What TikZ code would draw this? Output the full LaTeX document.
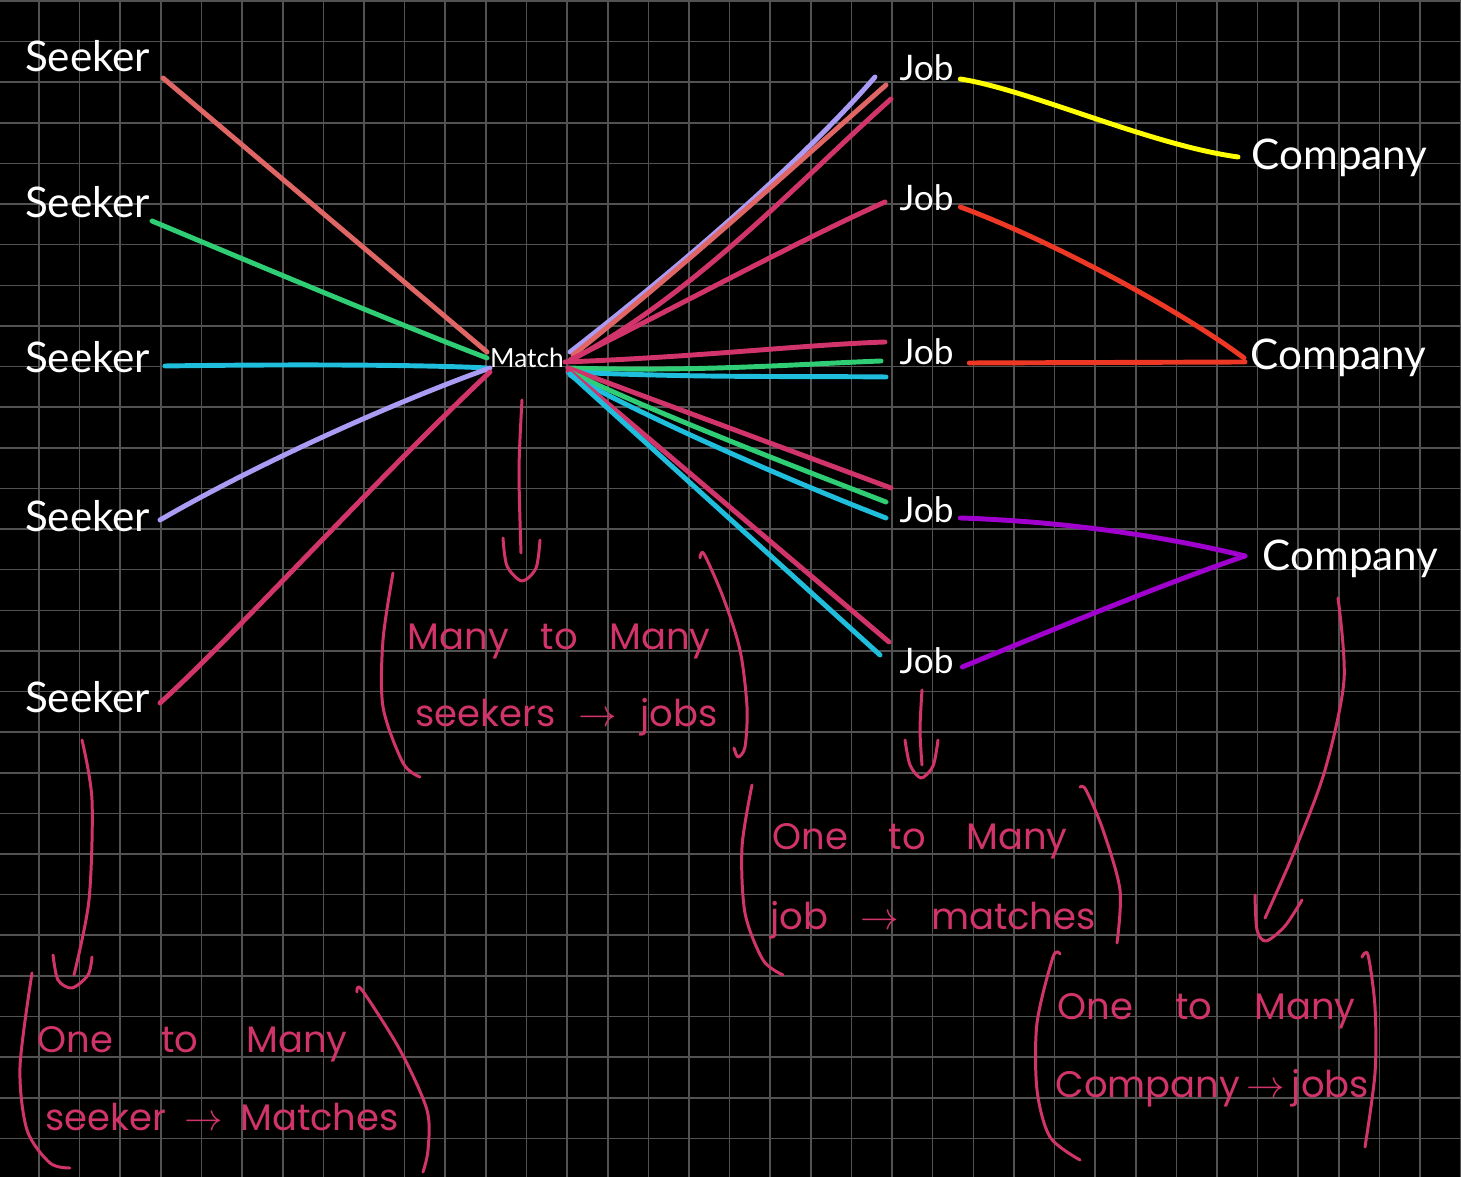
\documentclass[tikz,border=0pt]{standalone}
\usepackage{fontspec}
\usetikzlibrary{calc}
\newfontfamily\labelfont{Lato}
\newfontfamily\handfont{Poppins}
\definecolor{gridGray}{RGB}{82,82,82}
\definecolor{lnSalmon}{RGB}{224,102,102}
\definecolor{lnGreen}{RGB}{48,206,116}
\definecolor{lnCyan}{RGB}{30,190,220}
\definecolor{lnLavender}{RGB}{170,155,245}
\definecolor{lnPink}{RGB}{208,52,106}
\definecolor{lnYellow}{RGB}{255,255,0}
\definecolor{lnRed}{RGB}{236,56,36}
\definecolor{lnPurple}{RGB}{160,0,205}
\newlength{\px}\setlength{\px}{0.01cm}
\newcommand{\handline}[2]{\makebox[#2\px][s]{#1}}

\begin{document}
\begin{tikzpicture}[x=0.01cm, y=-0.01cm, line cap=round, line join=round,
	lbl/.style={text=white, inner sep=0pt, font=\labelfont\fontsize{12}{14}\selectfont},
	joblbl/.style={lbl, anchor=base west, font=\labelfont\fontsize{10}{12}\selectfont},
	wire/.style={line width=1.4pt},
	pen/.style={draw=lnPink, line width=0.85pt},
	note/.style={text=lnPink, inner sep=0pt, anchor=base west, font=\handfont\fontsize{10.5}{12}\selectfont}]
	\def\W{1461}
	\def\H{1177}
	\def\cell{40.62}

	\path[use as bounding box] (0,0) rectangle (\W,\H);
	\fill[black] (0,0) rectangle (\W,\H);
	\foreach \i in {1,...,36}
		\draw[gridGray, line width=0.45pt, line cap=butt] ({\i*\cell-1.6},0) -- ++(0,\H);
	\foreach \j in {0,...,28}
		\draw[gridGray, line width=0.45pt, line cap=butt] (0,{\j*\cell+1}) -- ++(\W,0);

	% labels
	\node[lbl, anchor=base east] (s1) at (151,72) {Seeker};
	\node[lbl, anchor=base east] (s2) at (151,218) {Seeker};
	\node[lbl, anchor=base east] (s3) at (151,373) {Seeker};
	\node[lbl, anchor=base east] (s4) at (151,532) {Seeker};
	\node[lbl, anchor=base east] (s5) at (151,713) {Seeker};
	\node[lbl, anchor=base, font=\labelfont\fontsize{7.5}{9}\selectfont] (m) at (527,368) {Match};
	\node[joblbl] (j1) at (899,81) {Job};
	\node[joblbl] (j2) at (899,211) {Job};
	\node[joblbl] (j3) at (899,365) {Job};
	\node[joblbl] (j4) at (899,523) {Job};
	\node[joblbl] (j5) at (899,674) {Job};
	\node[lbl, anchor=base west] (c1) at (1251,170) {Company};
	\node[lbl, anchor=base west] (c2) at (1250,370) {Company};
	\node[lbl, anchor=base west] (c3) at (1262,571) {Company};

	% seekers to match
	\draw[wire, lnSalmon] ($(s1.base east)+(12,6)$) -- ($(m.base)+(-40,-16)$);
	\draw[wire, lnGreen] ($(s2.base east)+(1,3)$) .. controls (250,262) and (400,325) .. ($(m.base)+(-40,-10)$);
	\draw[wire, lnCyan] ($(s3.base east)+(14,-7)$) .. controls (300,364) and (430,365) .. ($(m.base)+(-40,0)$);
	\draw[wire, lnLavender] ($(s4.base east)+(9,-12)$) .. controls (260,462) and (400,400) .. ($(m.base)+(-37,0)$);
	\draw[wire, lnPink] ($(s5.base east)+(9,-10)$) .. controls (230,640) and (380,475) .. ($(m.base)+(-37,4)$);

	% match to jobs
	\draw[wire, lnLavender] ($(m.base)+(43,-16)$) .. controls (650,290) and (790,175) .. ($(j1.base west)+(-24,-4)$);
	\draw[wire, lnSalmon] ($(m.base)+(46,-13)$) .. controls (680,270) and (790,170) .. ($(j1.base west)+(-13,4)$);
	\draw[wire, lnPink] ($(m.base)+(48,-10)$) .. controls (700,290) and (800,180) .. ($(j1.base west)+(-8,18)$);
	\draw[wire, lnPink] ($(m.base)+(43,-8)$) .. controls (680,305) and (800,240) .. ($(j2.base west)+(-14,-9)$);
	\draw[wire, lnPink] ($(m.base)+(38,-6)$) .. controls (700,357) and (800,345) .. ($(j3.base west)+(-14,-23)$);
	\draw[wire, lnGreen] ($(m.base)+(41,0)$) .. controls (700,372) and (800,364) .. ($(j3.base west)+(-18,-4)$);
	\draw[wire, lnCyan] ($(m.base)+(41,4)$) .. controls (700,378) and (800,376) .. ($(j3.base west)+(-13,12)$);
	\draw[wire, lnPink] ($(m.base)+(41,0)$) -- ($(j4.base west)+(-8,-35)$);
	\draw[wire, lnGreen] ($(m.base)+(43,4)$) .. controls (660,415) and (790,465) .. ($(j4.base west)+(-13,-21)$);
	\draw[wire, lnCyan] ($(m.base)+(43,7)$) .. controls (650,420) and (800,485) .. ($(j4.base west)+(-13,-5)$);
	\draw[wire, lnPink] ($(m.base)+(41,2)$) -- ($(j5.base west)+(-10,-32)$);
	\draw[wire, lnCyan] ($(m.base)+(43,6)$) -- ($(j5.base west)+(-19,-19)$);

	% jobs to companies
	\draw[wire, lnYellow] ($(j1.base east)+(6,-2)$) .. controls (1030,90) and (1150,145) .. ($(c1.base west)+(-13,-13)$);
	\draw[wire, lnRed] ($(j2.base east)+(6,-4)$) .. controls (1050,240) and (1180,310) .. ($(c2.base west)+(-6,-12)$);
	\draw[wire, lnRed] ($(j3.base east)+(15,-2)$) -- ($(c2.base west)+(-5,-8)$);
	\draw[wire, lnPurple] ($(j4.base east)+(6,-5)$) .. controls (1080,522) and (1180,540) .. ($(c3.base west)+(-17,-15)$);
	\draw[wire, lnPurple] ($(j5.base east)+(8,-7)$) .. controls (1040,635) and (1160,585) .. ($(c3.base west)+(-17,-15)$);

	% notes
	\draw[pen] plot[smooth] coordinates {(522,400) (519,470) (521,553)};
	\draw[pen] plot[smooth] coordinates {(503,538) (507,566) (522,581) (536,568) (540,540)};
	\draw[pen] plot[smooth] coordinates {(393,573) (383,640) (383,707) (403,763) (420,777)};
	\draw[pen] plot[smooth] coordinates {(700,558) (704,554) (723,597) (740,650) (747,707) (745,747) (738,757) (734,748)};
	\node[note] (mm1) at (407,650) {\handline{Many to Many}{303}};
	\node[note] (mm2) at (415,727) {\handline{seekers $\rightarrow$ jobs}{302}};

	\draw[pen] plot[smooth] coordinates {(82,740) (92,800) (89,900) (74,975)};
	\draw[pen] plot[smooth] coordinates {(53,955) (58,980) (72,988) (88,975) (92,957)};
	\draw[pen] plot[smooth] coordinates {(32,973) (20,1067) (27,1130) (50,1163) (70,1168)};
	\draw[pen] plot[smooth] coordinates {(357,992) (362,990) (400,1050) (427,1110) (428,1150) (423,1172)};
	\node[note] (sm1) at (37,1052) {\handline{One to Many}{310}};
	\node[note] (sm2) at (45,1130) {\handline{seeker $\rightarrow$ Matches}{353}};

	\draw[pen] plot[smooth] coordinates {(922,690) (920,730) (922,765)};
	\draw[pen] plot[smooth] coordinates {(905,740) (910,765) (921,778) (933,766) (938,740)};
	\draw[pen] plot[smooth] coordinates {(752,785) (742,847) (745,913) (763,960) (783,975)};
	\draw[pen] plot[smooth] coordinates {(1080,787) (1086,790) (1103,830) (1120,890) (1117,943)};
	\node[note] (jm1) at (772,850) {\handline{One to Many}{295}};
	\node[note] (jm2) at (770,930) {\handline{job $\rightarrow$ matches}{325}};

	\draw[pen] plot[smooth] coordinates {(1338,598) (1344,680) (1325,770) (1295,850) (1265,918)};
	\draw[pen] plot[smooth] coordinates {(1255,895) (1257,930) (1266,941) (1285,926) (1302,900)};
	\draw[pen] plot[smooth] coordinates {(1060,954) (1053,957) (1037,1023) (1037,1090) (1050,1137) (1080,1160)};
	\draw[pen] plot[smooth] coordinates {(1362,957) (1368,955) (1375,1007) (1375,1073) (1365,1147)};
	\node[note] (cj1) at (1057,1020) {\handline{One to Many}{298}};
	\node[note] (cj2) at (1055,1097) {\handline{Company $\rightarrow$ jobs}{285}};
\end{tikzpicture}
\end{document}
